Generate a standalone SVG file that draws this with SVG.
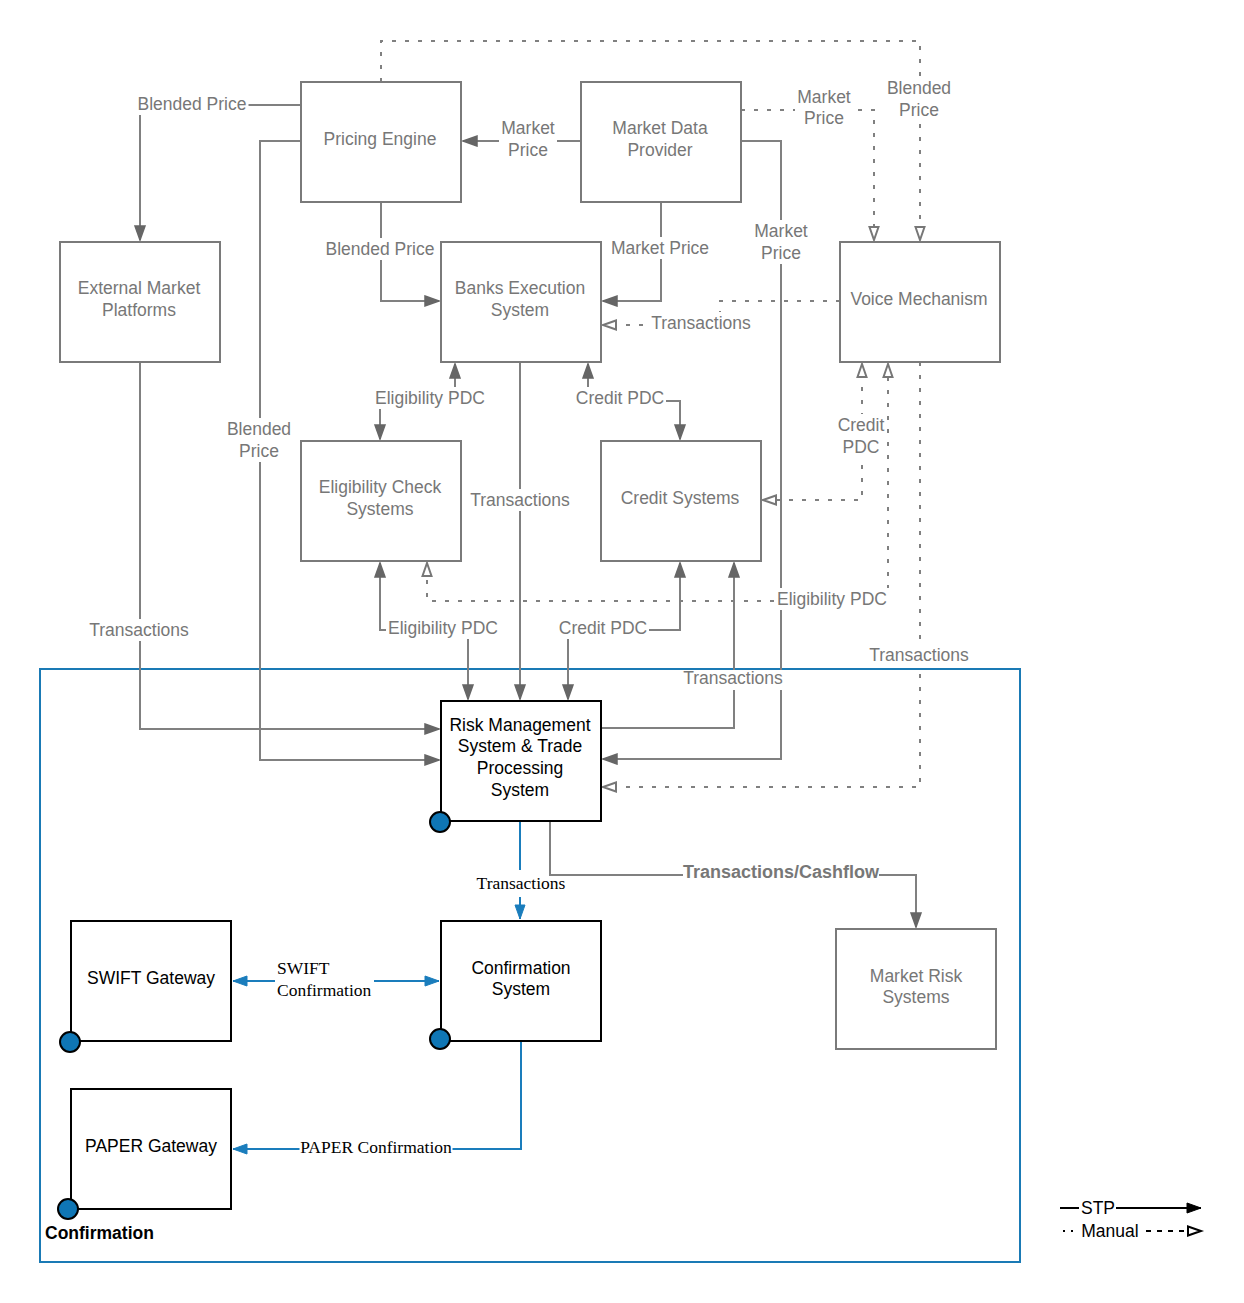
<svg xmlns="http://www.w3.org/2000/svg" width="1244" height="1303" viewBox="0 0 1244 1303">
<style>
.bg{fill:#fff}
.g{fill:#fff;stroke:#7a7a7a;stroke-width:2}
.k{fill:#fff;stroke:#000;stroke-width:2}
.gt{font-family:"Liberation Sans",Arial,sans-serif;font-size:17.5px;fill:#777;text-anchor:middle}
.kt{font-family:"Liberation Sans",Arial,sans-serif;font-size:17.5px;fill:#000;text-anchor:middle}
.st{font-family:"Liberation Serif","Times New Roman",serif;font-size:17.5px;fill:#000}
.c{fill:none;stroke:#808080;stroke-width:2}
.d{fill:none;stroke:#808080;stroke-width:2;stroke-dasharray:4 9}
.b{fill:none;stroke:#1a7dbc;stroke-width:2}
.lb{fill:#fff;stroke:none}
.dot{fill:#0f76b5;stroke:#000;stroke-width:2}
</style>
<defs>
<marker id="af" markerUnits="userSpaceOnUse" markerWidth="20" markerHeight="14" refX="16" refY="7" orient="auto-start-reverse"><path d="M2,2 L16,7 L2,12 z" fill="#666" stroke="#666" stroke-width="1.5"/></marker>
<marker id="ah" markerUnits="userSpaceOnUse" markerWidth="20" markerHeight="14" refX="16" refY="7" orient="auto-start-reverse"><path d="M3,2.5 L16,7 L3,11.5 z" fill="#fff" stroke="#777" stroke-width="2"/></marker>
<marker id="ab" markerUnits="userSpaceOnUse" markerWidth="20" markerHeight="14" refX="16" refY="7" orient="auto-start-reverse"><path d="M2,2 L16,7 L2,12 z" fill="#1a7dbc" stroke="#1a7dbc" stroke-width="1"/></marker>
<marker id="ak" markerUnits="userSpaceOnUse" markerWidth="20" markerHeight="14" refX="16" refY="7" orient="auto"><path d="M2,2 L16,7 L2,12 z" fill="#000" stroke="#000" stroke-width="1"/></marker>
<marker id="akh" markerUnits="userSpaceOnUse" markerWidth="20" markerHeight="14" refX="16" refY="7" orient="auto"><path d="M3,2.5 L16,7 L3,11.5 z" fill="#fff" stroke="#000" stroke-width="2"/></marker>
</defs>
<rect x="0" y="0" width="1244" height="1303" fill="#fff"/>

<g id="container">
<rect x="40" y="669" width="980" height="593" fill="none" stroke="#1a7ab5" stroke-width="2"/>
<text x="45" y="1239" style="font-family:'Liberation Sans',Arial,sans-serif;font-size:17.5px;font-weight:bold;fill:#000">Confirmation</text>
</g>

<g id="connectors">
<path class="d" d="M381,82 V41 H920 V240" marker-end="url(#ah)"/>
<path class="d" d="M741,110 H874 V240" marker-end="url(#ah)"/>
<path class="c" d="M581,141 H463" marker-end="url(#af)"/>
<path class="c" d="M301,105 H140 V240" marker-end="url(#af)"/>
<path class="c" d="M301,141 H260 V760 H439" marker-end="url(#af)"/>
<path class="c" d="M381,202 V301 H439" marker-end="url(#af)"/>
<path class="c" d="M661,202 V301 H603" marker-end="url(#af)"/>
<path class="c" d="M741,141 H781 V759 H603" marker-end="url(#af)"/>
<path class="d" d="M840,301 H720 V325 H603" marker-end="url(#ah)"/>
<path class="c" d="M455,364 V398 H380 V439" marker-start="url(#af)" marker-end="url(#af)"/>
<path class="c" d="M588,364 V401 H680 V439" marker-start="url(#af)" marker-end="url(#af)"/>
<path class="c" d="M520,362 V699" marker-end="url(#af)"/>
<path class="c" d="M140,362 V729 H439" marker-end="url(#af)"/>
<path class="d" d="M763,500 H862 V364" marker-start="url(#ah)" marker-end="url(#ah)"/>
<path class="d" d="M888,364 V601 H427 V563" marker-start="url(#ah)" marker-end="url(#ah)"/>
<path class="d" d="M920,362 V787 H603" marker-end="url(#ah)"/>
<path class="c" d="M380,563 V630 H468 V699" marker-start="url(#af)" marker-end="url(#af)"/>
<path class="c" d="M680,563 V630 H568 V699" marker-start="url(#af)" marker-end="url(#af)"/>
<path class="c" d="M601,728 H734 V563" marker-end="url(#af)"/>
<path class="b" d="M520,821 V919" marker-end="url(#ab)"/>
<path class="c" d="M550,821 V875 H916 V927" marker-end="url(#af)"/>
<path class="b" d="M233,981 H439" marker-start="url(#ab)" marker-end="url(#ab)"/>
<path class="b" d="M521,1041 V1149 H233" marker-end="url(#ab)"/>

<rect class="lb" x="135.5" y="93" width="113" height="22"/>
<text class="gt" x="192" y="110">Blended Price</text>
<rect class="lb" x="499" y="117" width="58" height="44"/>
<text class="gt" x="528" y="134">Market</text>
<text class="gt" x="528" y="156">Price</text>
<rect class="lb" x="795" y="86" width="58" height="43"/>
<text class="gt" x="824" y="103">Market</text>
<text class="gt" x="824" y="124">Price</text>
<rect class="lb" x="885" y="77" width="68" height="44"/>
<text class="gt" x="919" y="94">Blended</text>
<text class="gt" x="919" y="116">Price</text>
<rect class="lb" x="323.5" y="238" width="113" height="22"/>
<text class="gt" x="380" y="255">Blended Price</text>
<rect class="lb" x="609" y="237" width="102" height="22"/>
<text class="gt" x="660" y="254">Market Price</text>
<rect class="lb" x="752" y="220" width="58" height="44"/>
<text class="gt" x="781" y="237">Market</text>
<text class="gt" x="781" y="259">Price</text>
<rect class="lb" x="649" y="312" width="104" height="22"/>
<text class="gt" x="701" y="329">Transactions</text>
<rect class="lb" x="373" y="387" width="114" height="22"/>
<text class="gt" x="430" y="404">Eligibility PDC</text>
<rect class="lb" x="574" y="387" width="92" height="22"/>
<text class="gt" x="620" y="404">Credit PDC</text>
<rect class="lb" x="225" y="418" width="68" height="44"/>
<text class="gt" x="259" y="435">Blended</text>
<text class="gt" x="259" y="457">Price</text>
<rect class="lb" x="835.5" y="414" width="51" height="44"/>
<text class="gt" x="861" y="431">Credit</text>
<text class="gt" x="861" y="453">PDC</text>
<rect class="lb" x="468" y="489" width="104" height="22"/>
<text class="gt" x="520" y="506">Transactions</text>
<rect class="lb" x="775" y="588" width="114" height="22"/>
<text class="gt" x="832" y="605">Eligibility PDC</text>
<rect class="lb" x="386" y="617" width="114" height="22"/>
<text class="gt" x="443" y="634">Eligibility PDC</text>
<rect class="lb" x="557" y="617" width="92" height="22"/>
<text class="gt" x="603" y="634">Credit PDC</text>
<rect class="lb" x="87" y="619" width="104" height="22"/>
<text class="gt" x="139" y="636">Transactions</text>
<rect class="lb" x="867" y="644" width="104" height="22"/>
<text class="gt" x="919" y="661">Transactions</text>
<rect class="lb" x="681" y="670" width="104" height="20"/>
<text class="gt" x="733" y="684">Transactions</text>
<rect class="lb" x="514" y="870" width="12" height="27"/>
<rect class="lb" x="476" y="877" width="91" height="17"/>
<text class="st" x="521" y="889" text-anchor="middle">Transactions</text>
<rect class="lb" x="683" y="862" width="196" height="20"/>
<text x="781" y="878" style="font-family:'Liberation Sans',Arial,sans-serif;font-size:18px;font-weight:bold;fill:#777;text-anchor:middle">Transactions/Cashflow</text>
<rect class="lb" x="275" y="957" width="99" height="44"/>
<text class="st" x="277" y="974">SWIFT</text>
<text class="st" x="277" y="996">Confirmation</text>
<rect class="lb" x="299.5" y="1138" width="153" height="20"/>
<text class="st" x="376" y="1153" text-anchor="middle">PAPER Confirmation</text>
</g>

<g id="pricing-engine"><rect class="g" x="301" y="82" width="160" height="120"/><text class="gt" x="380" y="145">Pricing Engine</text></g>
<g id="market-data-provider"><rect class="g" x="581" y="82" width="160" height="120"/><text class="gt" x="660" y="134">Market Data</text><text class="gt" x="660" y="156">Provider</text></g>
<g id="external-market-platforms"><rect class="g" x="60" y="242" width="160" height="120"/><text class="gt" x="139" y="294">External Market</text><text class="gt" x="139" y="316">Platforms</text></g>
<g id="banks-execution-system"><rect class="g" x="441" y="242" width="160" height="120"/><text class="gt" x="520" y="294">Banks Execution</text><text class="gt" x="520" y="316">System</text></g>
<g id="voice-mechanism"><rect class="g" x="840" y="242" width="160" height="120"/><text class="gt" x="919" y="305">Voice Mechanism</text></g>
<g id="eligibility-check-systems"><rect class="g" x="301" y="441" width="160" height="120"/><text class="gt" x="380" y="493">Eligibility Check</text><text class="gt" x="380" y="515">Systems</text></g>
<g id="credit-systems"><rect class="g" x="601" y="441" width="160" height="120"/><text class="gt" x="680" y="504">Credit Systems</text></g>
<g id="risk-management"><rect class="k" x="441" y="701" width="160" height="120"/><text class="kt" x="520" y="731">Risk Management</text><text class="kt" x="520" y="752">System &amp; Trade</text><text class="kt" x="520" y="774">Processing</text><text class="kt" x="520" y="796">System</text><circle class="dot" cx="440" cy="822" r="10"/></g>
<g id="confirmation-system"><rect class="k" x="441" y="921" width="160" height="120"/><text class="kt" x="521" y="974">Confirmation</text><text class="kt" x="521" y="995">System</text><circle class="dot" cx="440" cy="1039" r="10"/></g>
<g id="swift-gateway"><rect class="k" x="71" y="921" width="160" height="120"/><text class="kt" x="151" y="984">SWIFT Gateway</text><circle class="dot" cx="70" cy="1042" r="10"/></g>
<g id="paper-gateway"><rect class="k" x="71" y="1089" width="160" height="120"/><text class="kt" x="151" y="1152">PAPER Gateway</text><circle class="dot" cx="68" cy="1209" r="10"/></g>
<g id="market-risk-systems"><rect class="g" x="836" y="929" width="160" height="120"/><text class="gt" x="916" y="982">Market Risk</text><text class="gt" x="916" y="1003">Systems</text></g>

<g id="legend">
<path d="M1060,1208 H1201" fill="none" stroke="#000" stroke-width="2" marker-end="url(#ak)"/>
<rect class="lb" x="1079" y="1198" width="37" height="20"/>
<text x="1098" y="1214" style="font-family:'Liberation Sans',Arial,sans-serif;font-size:17.5px;fill:#000;text-anchor:middle">STP</text>
<path d="M1063,1231 H1079" fill="none" stroke="#000" stroke-width="2" stroke-dasharray="2 6"/>
<path d="M1146,1231 H1201" fill="none" stroke="#000" stroke-width="2" stroke-dasharray="5 6" marker-end="url(#akh)"/>
<text x="1110" y="1237" style="font-family:'Liberation Sans',Arial,sans-serif;font-size:17.5px;fill:#000;text-anchor:middle">Manual</text>
</g>
</svg>
